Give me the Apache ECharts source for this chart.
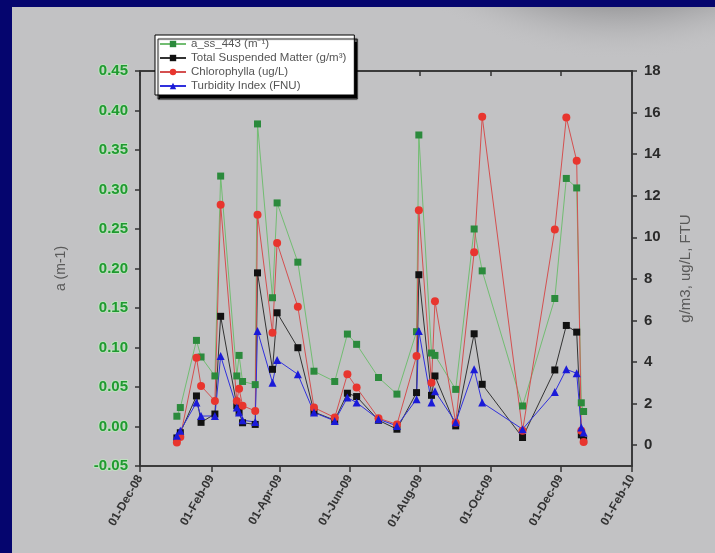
<!DOCTYPE html>
<html>
<head>
<meta charset="utf-8">
<title>a_ss_443, TSM, Chlorophyll, Turbidity</title>
<script src="https://cdn.jsdelivr.net/npm/echarts@6/dist/echarts.min.js"></script>
<style>
  html, body { margin: 0; padding: 0; background: #05056e; }
  #chart { width: 715px; height: 553px; }
</style>
</head>
<body>
<div id="chart"></div>
<script>
// sampling dates
const sampleDates = [
  '2009-01-02', '2009-01-05', '2009-01-19', '2009-01-23', '2009-02-04', '2009-02-09',
  '2009-02-23', '2009-02-25', '2009-02-28', '2009-03-11', '2009-03-13', '2009-03-26',
  '2009-03-30', '2009-04-17', '2009-05-01', '2009-05-19', '2009-05-30', '2009-06-07',
  '2009-06-26', '2009-07-12', '2009-07-29', '2009-07-31', '2009-08-11', '2009-08-14',
  '2009-09-01', '2009-09-17', '2009-09-24', '2009-10-29', '2009-11-26', '2009-12-06',
  '2009-12-15', '2009-12-19', '2009-12-21'
]

// a_ss_443 (m-1), left axis
const absorption443 = [
  0.013, 0.024, 0.109, 0.088, 0.064, 0.317,
  0.064, 0.090, 0.057, 0.053, 0.383, 0.163,
  0.283, 0.208, 0.070, 0.057, 0.117, 0.104,
  0.062, 0.041, 0.120, 0.369, 0.093, 0.090,
  0.047, 0.250, 0.197, 0.026, 0.162, 0.314,
  0.302, 0.030, 0.019
]

// Total Suspended Matter (g/m3), right axis
const tsmValues = [
  0.35, 0.60, 2.37, 1.10, 1.50, 6.20,
  1.90, 1.60, 1.08, 1.00, 8.29, 3.65,
  6.37, 4.69, 1.60, 1.20, 2.50, 2.34,
  1.20, 0.77, 2.53, 8.20, 2.40, 3.33,
  0.93, 5.36, 2.93, 0.37, 3.62, 5.76,
  5.44, 0.50, 0.25
]

// Chlorophylla (ug/L), right axis
const chlValues = [
  0.13, 0.40, 4.21, 2.85, 2.13, 11.57,
  2.13, 2.72, 1.90, 1.65, 11.09, 5.41,
  9.73, 6.66, 1.81, 1.33, 3.41, 2.77,
  1.30, 1.00, 4.29, 11.30, 3.00, 6.93,
  1.08, 9.28, 15.80, 0.69, 10.37, 15.76,
  13.68, 0.70, 0.15
]

// Turbidity Index (FNU), right axis
const turbidityValues = [
  0.45, 0.70, 2.05, 1.40, 1.41, 4.29,
  1.81, 1.57, 1.20, 1.12, 5.49, 3.01,
  4.10, 3.41, 1.57, 1.17, 2.29, 2.05,
  1.25, 0.93, 2.21, 5.49, 2.05, 2.60,
  1.10, 3.65, 2.05, 0.77, 2.56, 3.65,
  3.46, 0.85, 0.61
]

// axis ticks
const xTickDates = ['2008-12-01', '2009-02-01', '2009-04-01', '2009-06-01', '2009-08-01', '2009-10-01', '2009-12-01', '2010-02-01']
const rightTicks = [0, 2, 4, 6, 8, 10, 12, 14, 16, 18]
const monthNames = ['Jan', 'Feb', 'Mar', 'Apr', 'May', 'Jun', 'Jul', 'Aug', 'Sep', 'Oct', 'Nov', 'Dec']

function toTime(str) {
  const p = str.split('-')
  return new Date(Number(p[0]), Number(p[1]) - 1, Number(p[2])).getTime()
}

function pairs(values) {
  return sampleDates.map((d, i) => [toTime(d), values[i]])
}

const xTicks = xTickDates.map(toTime)
const labelFont = 'Liberation Sans, Arial, sans-serif'

const myChart = echarts.init(document.getElementById('chart'))
const options = {
  animation: false,
  backgroundColor: '#05056e',
  textStyle: { fontFamily: labelFont },
  graphic: [
    {
      type: 'rect',
      z: -10,
      silent: true,
      shape: { x: 12, y: 7, width: 703, height: 546 },
      style: { fill: '#c2c2c4' }
    },
    {
      // dark sheen along the top right of the slide
      type: 'rect',
      z: -9,
      silent: true,
      shape: { x: 360, y: 7, width: 355, height: 80 },
      style: {
        fill: new echarts.graphic.RadialGradient(620, -300, 360, [
          { offset: 0.8, color: 'rgba(122,122,124,0.9)' },
          { offset: 0.9, color: 'rgba(160,160,162,0.5)' },
          { offset: 1, color: 'rgba(194,194,196,0)' }
        ], true)
      }
    }
  ],
  legend: {
    orient: 'vertical',
    left: 155,
    top: 35,
    backgroundColor: '#ffffff',
    borderColor: '#000',
    borderWidth: 1,
    shadowColor: '#000',
    shadowBlur: 1,
    shadowOffsetX: 3,
    shadowOffsetY: 4,
    padding: [3, 8, 3, 4],
    itemWidth: 26,
    itemHeight: 8,
    itemGap: 2,
    textStyle: { fontSize: 11.5, color: '#555', fontFamily: labelFont },
    data: ['a_ss_443 (m\u207b\u00b9)', 'Total Suspended Matter (g/m\u00b3)', 'Chlorophylla (ug/L)', 'Turbidity Index (FNU)']
  },
  grid: {
    left: 140,
    right: 83,
    top: 71,
    bottom: 87,
    show: true,
    borderColor: '#333',
    borderWidth: 1.5,
    backgroundColor: 'transparent'
  },
  xAxis: [
    {
      type: 'value',
      min: xTicks[0],
      max: xTicks[xTicks.length - 1],
      axisLine: { onZero: false, lineStyle: { color: '#333', width: 1.5 } },
      axisTick: { customValues: xTicks, length: 6, lineStyle: { color: '#333', width: 1.5 } },
      splitLine: { show: false },
      axisLabel: {
        customValues: xTicks,
        rotate: 60,
        margin: 10,
        fontSize: 12,
        fontWeight: 'bold',
        color: '#333',
        formatter: function(v) {
          const d = new Date(v)
          return '01-' + monthNames[d.getMonth()] + '-' + String(d.getFullYear()).slice(2)
        }
      }
    },
    {
      type: 'value',
      position: 'top',
      min: xTicks[0],
      max: xTicks[xTicks.length - 1],
      axisLine: { onZero: false, lineStyle: { color: '#333', width: 1.5 } },
      axisTick: { inside: true, customValues: xTicks, length: 5, lineStyle: { color: '#333', width: 1.5 } },
      axisLabel: { show: false },
      splitLine: { show: false }
    }
  ],
  yAxis: [
    {
      type: 'value',
      name: 'a (m-1)',
      nameLocation: 'middle',
      nameGap: 72,
      nameRotate: 90,
      nameTextStyle: { color: '#5a5a5a', fontSize: 14 },
      min: -0.05,
      max: 0.45,
      interval: 0.05,
      axisLine: { show: true, onZero: false, lineStyle: { color: '#333', width: 1.5 } },
      axisTick: { show: true, length: 5, lineStyle: { color: '#333', width: 1.5 } },
      splitLine: { show: false },
      axisLabel: {
        margin: 12,
        fontSize: 15,
        fontWeight: 'bold',
        color: '#1f9a30',
        textBorderColor: 'rgba(190,235,190,0.7)',
        textBorderWidth: 2,
        formatter: function(v) {
          return Math.abs(v) < 1e-9 ? '0.00' : v.toFixed(2)
        }
      }
    },
    {
      type: 'value',
      position: 'right',
      name: 'g/m3, ug/L, FTU',
      nameLocation: 'middle',
      nameGap: 46,
      nameRotate: 90,
      nameTextStyle: { color: '#5a5a5a', fontSize: 15 },
      min: -1,
      max: 18,
      axisLine: { show: true, onZero: false, lineStyle: { color: '#333', width: 1.5 } },
      axisTick: { show: true, customValues: rightTicks, length: 5, lineStyle: { color: '#333', width: 1.5 } },
      splitLine: { show: false },
      axisLabel: {
        customValues: rightTicks,
        margin: 12,
        fontSize: 15,
        fontWeight: 'bold',
        color: '#2a2a2a'
      }
    }
  ],
  series: [
    {
      name: 'a_ss_443 (m\u207b\u00b9)',
      type: 'line',
      yAxisIndex: 0,
      data: pairs(absorption443),
      symbol: 'rect',
      symbolSize: 7,
      lineStyle: { color: '#72bd72', width: 1 },
      itemStyle: { color: '#2b8a3c' }
    },
    {
      name: 'Total Suspended Matter (g/m\u00b3)',
      type: 'line',
      yAxisIndex: 1,
      data: pairs(tsmValues),
      symbol: 'rect',
      symbolSize: 7,
      lineStyle: { color: '#333', width: 1 },
      itemStyle: { color: '#111' }
    },
    {
      name: 'Chlorophylla (ug/L)',
      type: 'line',
      yAxisIndex: 1,
      data: pairs(chlValues),
      symbol: 'circle',
      symbolSize: 8,
      lineStyle: { color: '#d45050', width: 1 },
      itemStyle: { color: '#e8352e' }
    },
    {
      name: 'Turbidity Index (FNU)',
      type: 'line',
      yAxisIndex: 1,
      data: pairs(turbidityValues),
      symbol: 'triangle',
      symbolSize: 8,
      lineStyle: { color: '#3030dd', width: 1 },
      itemStyle: { color: '#1a1ad8' }
    }
  ]
}

myChart.setOption(options)
window.addEventListener('resize', function() {
  myChart.resize()
})
</script>
</body>
</html>
